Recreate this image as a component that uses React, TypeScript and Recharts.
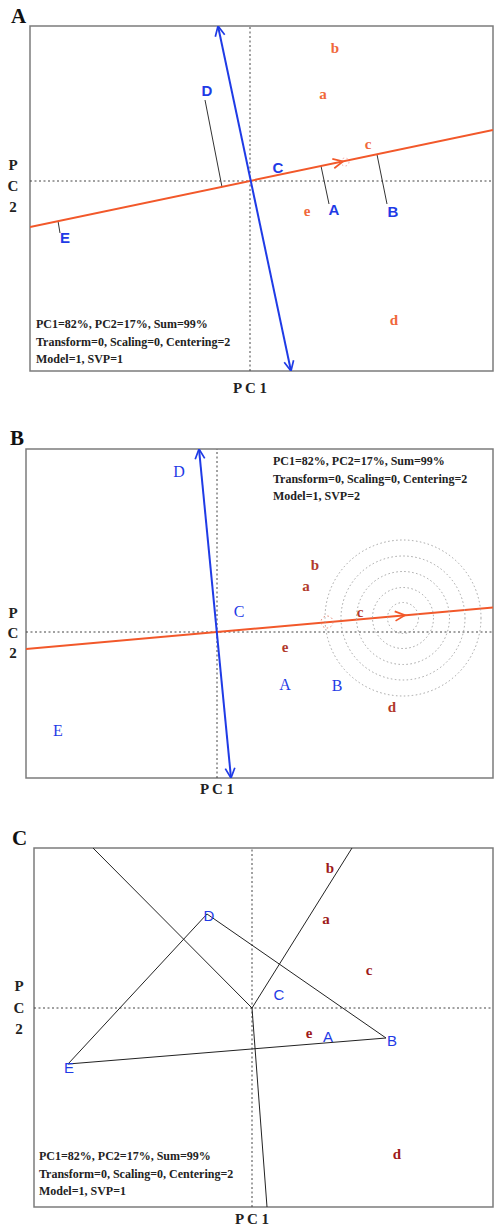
import React from 'react';
import { ScatterChart, Scatter, XAxis, YAxis, ReferenceLine, ReferenceArea } from 'recharts';

type Pt = { x: number; y: number };
type Lbl = Pt & { label: string };
type Ring = Pt & { r: number };

// 1 unit = 50px on both axes, so the plots keep an equal aspect
const SCALE = 50;
const W = 494;

const infoLines = ['PC1=82%, PC2=17%, Sum=99%', 'Transform=0, Scaling=0, Centering=2'];

// ---------- panel A ----------
const aXDomain: [number, number] = [-4.4, 4.86];
const aYDomain: [number, number] = [-3.8, 3.1];
const aGenotypes: Lbl[] = [
  { label: 'D', x: -0.86, y: 1.82 },
  { label: 'C', x: 0.56, y: 0.28 },
  { label: 'A', x: 1.68, y: -0.56 },
  { label: 'B', x: 2.86, y: -0.6 },
  { label: 'E', x: -3.7, y: -1.12 },
];
const aEnvs: Lbl[] = [
  { label: 'b', x: 1.7, y: 2.66 },
  { label: 'a', x: 1.46, y: 1.74 },
  { label: 'c', x: 2.36, y: 0.74 },
  { label: 'e', x: 1.14, y: -0.6 },
  { label: 'd', x: 2.88, y: -2.78 },
];
const aAteLine: Pt[] = [{ x: -4.4, y: -0.92 }, { x: 4.86, y: 1.02 }];
const aOrthoLine: Pt[] = [{ x: -0.64, y: 3.1 }, { x: 0.82, y: -3.8 }];
const aAteTip: Pt[] = [{ x: 1.86, y: 0.39 }];
const aOrthoTips: Pt[] = [{ x: -0.64, y: 3.1 }, { x: 0.82, y: -3.8 }];
const aMarker: Ring[] = [{ x: 1.9, y: 0.38, r: 0.08 }];
const aProjections: Pt[][] = [
  [{ x: -0.9, y: 1.62 }, { x: -0.56, y: -0.12 }],
  [{ x: 1.42, y: 0.3 }, { x: 1.58, y: -0.46 }],
  [{ x: 2.54, y: 0.53 }, { x: 2.74, y: -0.46 }],
  [{ x: -3.84, y: -0.8 }, { x: -3.8, y: -1.04 }],
];

// ---------- panel B ----------
const bXDomain: [number, number] = [-3.82, 5.52];
const bYDomain: [number, number] = [-2.92, 3.66];
const bGenotypes: Lbl[] = [
  { label: 'D', x: -0.76, y: 3.22 },
  { label: 'C', x: 0.44, y: 0.42 },
  { label: 'A', x: 1.36, y: -1.04 },
  { label: 'B', x: 2.4, y: -1.06 },
  { label: 'E', x: -3.18, y: -1.96 },
];
const bEnvs: Lbl[] = [
  { label: 'b', x: 1.96, y: 1.34 },
  { label: 'a', x: 1.78, y: 0.92 },
  { label: 'c', x: 2.86, y: 0.4 },
  { label: 'e', x: 1.36, y: -0.3 },
  { label: 'd', x: 3.5, y: -1.5 },
];
const bAeaLine: Pt[] = [{ x: -3.82, y: -0.34 }, { x: 5.52, y: 0.49 }];
const bOrthoLine: Pt[] = [{ x: -0.36, y: 3.66 }, { x: 0.28, y: -2.92 }];
const bAeaTip: Pt[] = [{ x: 3.76, y: 0.335 }];
const bOrthoTips: Pt[] = [{ x: -0.36, y: 3.66 }, { x: 0.28, y: -2.92 }];
const bMarker: Ring[] = [{ x: 2.2, y: 0.2, r: 0.12 }];
const bRings: Ring[] = [
  { x: 3.72, y: 0.28, r: 0.31 },
  { x: 3.72, y: 0.28, r: 0.61 },
  { x: 3.72, y: 0.28, r: 0.93 },
  { x: 3.72, y: 0.28, r: 1.24 },
  { x: 3.72, y: 0.28, r: 1.56 },
];

// ---------- panel C ----------
const cXDomain: [number, number] = [-4.36, 4.82];
const cYDomain: [number, number] = [-3.98, 3.2];
const cGenotypes: Lbl[] = [
  { label: 'D', x: -0.86, y: 1.86 },
  { label: 'C', x: 0.54, y: 0.28 },
  { label: 'A', x: 1.52, y: -0.56 },
  { label: 'B', x: 2.8, y: -0.64 },
  { label: 'E', x: -3.66, y: -1.18 },
];
const cEnvs: Lbl[] = [
  { label: 'b', x: 1.56, y: 2.8 },
  { label: 'a', x: 1.48, y: 1.78 },
  { label: 'c', x: 2.34, y: 0.76 },
  { label: 'e', x: 1.14, y: -0.5 },
  { label: 'd', x: 2.9, y: -2.92 },
];
const cPolygon: Pt[] = [
  { x: -3.68, y: -1.12 },
  { x: -0.9, y: 1.88 },
  { x: 2.68, y: -0.6 },
];
const cRays: Pt[] = [
  { x: -3.18, y: 3.2 },
  { x: 2.0, y: 3.2 },
  { x: 0.3, y: -3.98 },
];

const labelShape = (color: string, font: string, size: number, weight: number | string) => (p: any) => (
  <text
    x={p.cx}
    y={p.cy}
    fill={color}
    fontFamily={font}
    fontSize={size}
    fontWeight={weight}
    textAnchor="middle"
    dominantBaseline="central"
  >
    {p.payload.label}
  </text>
);

// arrows all start at the biplot origin
const arrowShape = (color: string) => (p: any) => {
  const ang = Math.atan2(-p.payload.y, p.payload.x);
  const L = 11;
  const phi = 0.45;
  const x1 = p.cx - L * Math.cos(ang - phi);
  const y1 = p.cy - L * Math.sin(ang - phi);
  const x2 = p.cx - L * Math.cos(ang + phi);
  const y2 = p.cy - L * Math.sin(ang + phi);
  return (
    <path
      d={`M${x1},${y1}L${p.cx},${p.cy}L${x2},${y2}`}
      stroke={color}
      strokeWidth={1.7}
      fill="none"
    />
  );
};

const ringShape = (color: string) => (p: any) => (
  <circle cx={p.cx} cy={p.cy} r={p.payload.r * SCALE} fill="none" stroke={color} strokeWidth={1} strokeDasharray="1.5 2.5" />
);

const seg = (a: Pt, b: Pt, stroke: string, width: number, key: string) => (
  <ReferenceLine key={key} segment={[a, b]} stroke={stroke} strokeWidth={width} ifOverflow="hidden" />
);

const textStyle: React.CSSProperties = {
  position: 'absolute',
  fontFamily: '"Liberation Serif", serif',
  fontWeight: 'bold',
  fontSize: 12,
  lineHeight: '17.5px',
  color: '#222',
  whiteSpace: 'nowrap',
};

const letterStyle: React.CSSProperties = {
  position: 'absolute',
  fontFamily: '"Liberation Serif", serif',
  fontWeight: 'bold',
  fontSize: 21,
  lineHeight: '21px',
  color: '#111',
};

const axisStyle: React.CSSProperties = {
  position: 'absolute',
  fontFamily: '"Liberation Serif", serif',
  fontWeight: 'bold',
  fontSize: 15,
  lineHeight: '15px',
  color: '#222',
  transform: 'translate(-50%, -50%)',
  whiteSpace: 'nowrap',
};

function Frame(props: {
  top: number;
  height: number;
  margin: { top: number; left: number; right: number; bottom: number };
  xDomain: [number, number];
  yDomain: [number, number];
  children: React.ReactNode;
}) {
  const { xDomain, yDomain } = props;
  return (
    <div style={{ position: 'absolute', left: 0, top: props.top }}>
      <ScatterChart width={W} height={props.height} margin={props.margin}>
        <XAxis type="number" dataKey="x" domain={xDomain} allowDataOverflow hide />
        <YAxis type="number" dataKey="y" domain={yDomain} allowDataOverflow hide />
        <ReferenceArea
          x1={xDomain[0]}
          x2={xDomain[1]}
          y1={yDomain[0]}
          y2={yDomain[1]}
          fill="none"
          stroke="#7c7c7c"
          strokeWidth={1.5}
          ifOverflow="visible"
        />
        <ReferenceLine x={0} stroke="#444" strokeDasharray="2 2.5" />
        <ReferenceLine y={0} stroke="#444" strokeDasharray="2 2.5" />
        {props.children}
      </ScatterChart>
    </div>
  );
}

const ORANGE = '#f2582a';
const BLUE = '#1f3be6';
const SANS = '"Liberation Sans", Arial, sans-serif';
const SERIF = '"Liberation Serif", serif';

export default function App() {
  return (
    <div style={{ position: 'relative', width: W, height: 1225, background: '#fff', overflow: 'hidden' }}>
      <style>{'body{margin:0}'}</style>

      {/* ---- A ---- */}
      <div style={{ ...letterStyle, left: 11, top: 6 }}>A</div>
      <Frame top={0} height={400} margin={{ top: 26, left: 30, right: 1, bottom: 29 }} xDomain={aXDomain} yDomain={aYDomain}>
        {aProjections.map((s, i) => seg(s[0], s[1], '#333', 1, 'ap' + i))}
        {seg(aAteLine[0], aAteLine[1], ORANGE, 2, 'aate')}
        {seg(aOrthoLine[0], aOrthoLine[1], BLUE, 2, 'aorth')}
        <Scatter data={aMarker} shape={ringShape('#f4a0a0')} isAnimationActive={false} />
        <Scatter data={aAteTip} shape={arrowShape(ORANGE)} isAnimationActive={false} />
        <Scatter data={aOrthoTips} shape={arrowShape(BLUE)} isAnimationActive={false} />
        <Scatter data={aGenotypes} shape={labelShape(BLUE, SANS, 15, 'bold')} isAnimationActive={false} />
        <Scatter data={aEnvs} shape={labelShape('#f0683a', SERIF, 15, 'bold')} isAnimationActive={false} />
      </Frame>
      <div style={{ ...textStyle, left: 36, top: 316 }}>
        {infoLines[0]}
        <br />
        {infoLines[1]}
        <br />
        Model=1, SVP=1
      </div>
      <div style={{ ...axisStyle, left: 250, top: 388 }}>P C 1</div>
      <div style={{ ...axisStyle, left: 13, top: 165 }}>P</div>
      <div style={{ ...axisStyle, left: 13, top: 186 }}>C</div>
      <div style={{ ...axisStyle, left: 13, top: 207 }}>2</div>

      {/* ---- B ---- */}
      <div style={{ ...letterStyle, left: 10, top: 428 }}>B</div>
      <Frame top={420} height={400} margin={{ top: 29, left: 26, right: 1, bottom: 42 }} xDomain={bXDomain} yDomain={bYDomain}>
        <Scatter data={bRings} shape={ringShape('#a3a3a3')} isAnimationActive={false} />
        <Scatter data={bMarker} shape={ringShape('#e08070')} isAnimationActive={false} />
        {seg(bAeaLine[0], bAeaLine[1], ORANGE, 2, 'bate')}
        {seg(bOrthoLine[0], bOrthoLine[1], BLUE, 2, 'borth')}
        <Scatter data={bAeaTip} shape={arrowShape(ORANGE)} isAnimationActive={false} />
        <Scatter data={bOrthoTips} shape={arrowShape(BLUE)} isAnimationActive={false} />
        <Scatter data={bGenotypes} shape={labelShape(BLUE, SERIF, 16, 'normal')} isAnimationActive={false} />
        <Scatter data={bEnvs} shape={labelShape('#b23a2c', SERIF, 15, 'bold')} isAnimationActive={false} />
      </Frame>
      <div style={{ ...textStyle, left: 273, top: 453 }}>
        {infoLines[0]}
        <br />
        {infoLines[1]}
        <br />
        Model=1, SVP=2
      </div>
      <div style={{ ...axisStyle, left: 217, top: 789 }}>P C 1</div>
      <div style={{ ...axisStyle, left: 13, top: 613 }}>P</div>
      <div style={{ ...axisStyle, left: 13, top: 633 }}>C</div>
      <div style={{ ...axisStyle, left: 13, top: 653 }}>2</div>

      {/* ---- C ---- */}
      <div style={{ ...letterStyle, left: 12, top: 828 }}>C</div>
      <Frame top={820} height={405} margin={{ top: 28, left: 34, right: 1, bottom: 18 }} xDomain={cXDomain} yDomain={cYDomain}>
        {cRays.map((r, i) => seg({ x: 0, y: 0 }, r, '#222', 1, 'cr' + i))}
        {cPolygon.map((p, i) => seg(p, cPolygon[(i + 1) % cPolygon.length], '#222', 1, 'cp' + i))}
        <Scatter data={cGenotypes} shape={labelShape(BLUE, SANS, 15, 'normal')} isAnimationActive={false} />
        <Scatter data={cEnvs} shape={labelShape('#9e1a1a', SERIF, 15, 'bold')} isAnimationActive={false} />
      </Frame>
      <div style={{ ...textStyle, left: 39, top: 1148 }}>
        {infoLines[0]}
        <br />
        {infoLines[1]}
        <br />
        Model=1, SVP=1
      </div>
      <div style={{ ...axisStyle, left: 252, top: 1219 }}>P C 1</div>
      <div style={{ ...axisStyle, left: 19, top: 986 }}>P</div>
      <div style={{ ...axisStyle, left: 19, top: 1008 }}>C</div>
      <div style={{ ...axisStyle, left: 19, top: 1029 }}>2</div>
    </div>
  );
}
